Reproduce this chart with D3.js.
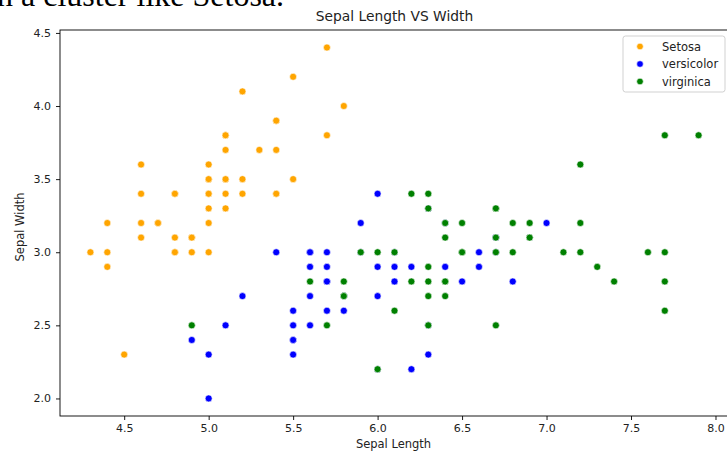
<!DOCTYPE html>
<html>
<head>
<meta charset="utf-8">
<script src="https://cdn.jsdelivr.net/npm/d3@7"></script>
<style>
  html, body { margin: 0; padding: 0; background: #fff; overflow: hidden; }
  svg { display: block; }
  text { font-family: "DejaVu Sans", sans-serif; }
</style>
</head>
<body>
<svg id="chart" width="727" height="452"></svg>
<script>
// Iris measurements: [sepal length, sepal width]
const setosa = [
  [5.1,3.5],[4.9,3.0],[4.7,3.2],[4.6,3.1],[5.0,3.6],[5.4,3.9],[4.6,3.4],[5.0,3.4],[4.4,2.9],[4.9,3.1],
  [5.4,3.7],[4.8,3.4],[4.8,3.0],[4.3,3.0],[5.8,4.0],[5.7,4.4],[5.4,3.9],[5.1,3.5],[5.7,3.8],[5.1,3.8],
  [5.4,3.4],[5.1,3.7],[4.6,3.6],[5.1,3.3],[4.8,3.4],[5.0,3.0],[5.0,3.4],[5.2,3.5],[5.2,3.4],[4.7,3.2],
  [4.8,3.1],[5.4,3.4],[5.2,4.1],[5.5,4.2],[4.9,3.1],[5.0,3.2],[5.5,3.5],[4.9,3.1],[4.4,3.0],[5.1,3.4],
  [5.0,3.5],[4.5,2.3],[4.4,3.2],[5.0,3.5],[5.1,3.8],[4.8,3.0],[5.1,3.8],[4.6,3.2],[5.3,3.7],[5.0,3.3]
];
const versicolor = [
  [7.0,3.2],[6.4,3.2],[6.9,3.1],[5.5,2.3],[6.5,2.8],[5.7,2.8],[6.3,3.3],[4.9,2.4],[6.6,2.9],[5.2,2.7],
  [5.0,2.0],[5.9,3.0],[6.0,2.2],[6.1,2.9],[5.6,2.9],[6.7,3.1],[5.6,3.0],[5.8,2.7],[6.2,2.2],[5.6,2.5],
  [5.9,3.2],[6.1,2.8],[6.3,2.5],[6.1,2.8],[6.4,2.9],[6.6,3.0],[6.8,2.8],[6.7,3.0],[6.0,2.9],[5.7,2.6],
  [5.5,2.4],[5.5,2.4],[5.8,2.7],[6.0,2.7],[5.4,3.0],[6.0,3.4],[6.7,3.1],[6.3,2.3],[5.6,3.0],[5.5,2.5],
  [5.5,2.6],[6.1,3.0],[5.8,2.6],[5.0,2.3],[5.6,2.7],[5.7,3.0],[5.7,2.9],[6.2,2.9],[5.1,2.5],[5.7,2.8]
];
const virginica = [
  [6.3,3.3],[5.8,2.7],[7.1,3.0],[6.3,2.9],[6.5,3.0],[7.6,3.0],[4.9,2.5],[7.3,2.9],[6.7,2.5],[7.2,3.6],
  [6.5,3.2],[6.4,2.7],[6.8,3.0],[5.7,2.5],[5.8,2.8],[6.4,3.2],[6.5,3.0],[7.7,3.8],[7.7,2.6],[6.0,2.2],
  [6.9,3.2],[5.6,2.8],[7.7,2.8],[6.3,2.7],[6.7,3.3],[7.2,3.2],[6.2,2.8],[6.1,3.0],[6.4,2.8],[7.2,3.0],
  [7.4,2.8],[7.9,3.8],[6.4,2.8],[6.3,2.8],[6.1,2.6],[7.7,3.0],[6.3,3.4],[6.4,3.1],[6.0,3.0],[6.9,3.1],
  [6.7,3.1],[6.9,3.1],[5.8,2.7],[6.8,3.2],[6.7,3.3],[6.7,3.0],[6.3,2.5],[6.5,3.0],[6.2,3.4],[5.9,3.0]
];

const seriesNames = ["Setosa", "versicolor", "virginica"];
const seriesColors = ["orange", "blue", "green"];
const xTicks = [4.5, 5.0, 5.5, 6.0, 6.5, 7.0, 7.5, 8.0];
const yTicks = [2.0, 2.5, 3.0, 3.5, 4.0, 4.5];

const series = [setosa, versicolor, virginica].map((pts, i) => ({
  name: seriesNames[i], color: seriesColors[i], points: pts
}));

const svg = d3.select("#chart");

// Tail of the surrounding page's text line, running off the top edge
svg.append("text")
  .attr("x", -3).attr("y", 6)
  .style("font-family", "'Liberation Serif', 'Times New Roman', serif")
  .style("font-size", "32px")
  .attr("fill", "#000")
  .text("n a cluster like Setosa.");

const plot = { left: 60, top: 30, right: 729, bottom: 416 };

const x = d3.scaleLinear().domain([4.12, 8.08]).range([plot.left, plot.right]);
const y = d3.scaleLinear().domain([1.88, 4.52]).range([plot.bottom, plot.top]);

// Axes
const xAxis = svg.append("g")
  .attr("transform", `translate(0,${plot.bottom})`)
  .call(d3.axisBottom(x).tickValues(xTicks).tickFormat(d3.format(".1f")).tickSizeOuter(0).tickSize(4).tickPadding(4));
const yAxis = svg.append("g")
  .attr("transform", `translate(${plot.left},0)`)
  .call(d3.axisLeft(y).tickValues(yTicks).tickFormat(d3.format(".1f")).tickSizeOuter(0).tickSize(4).tickPadding(5));

[xAxis, yAxis].forEach(g => {
  g.select(".domain").remove();
  g.selectAll(".tick line").attr("stroke", "#000").attr("stroke-width", 0.9);
  g.selectAll(".tick text").attr("fill", "#222").style("font-size", "11px").style("font-family", "'DejaVu Sans', sans-serif");
});

// Frame (spines)
svg.append("rect")
  .attr("x", plot.left).attr("y", plot.top)
  .attr("width", plot.right - plot.left).attr("height", plot.bottom - plot.top)
  .attr("fill", "none").attr("stroke", "#000").attr("stroke-width", 0.9);

// Points
series.forEach(s => {
  svg.append("g").selectAll("circle")
    .data(s.points)
    .join("circle")
    .attr("cx", d => x(d[0]))
    .attr("cy", d => y(d[1]))
    .attr("r", 3.5)
    .attr("fill", s.color)
    .attr("stroke", "#fff")
    .attr("stroke-width", 0.6);
});

// Title and axis labels
svg.append("text")
  .attr("x", (plot.left + plot.right) / 2).attr("y", 21)
  .attr("text-anchor", "middle")
  .style("font-size", "13.8px").attr("fill", "#222")
  .text("Sepal Length VS Width");

svg.append("text")
  .attr("x", (plot.left + plot.right) / 2 - 1).attr("y", 448)
  .attr("text-anchor", "middle")
  .style("font-size", "11.5px").attr("fill", "#222")
  .text("Sepal Length");

svg.append("text")
  .attr("transform", `translate(24,${(plot.top + plot.bottom) / 2 + 4}) rotate(-90)`)
  .attr("text-anchor", "middle")
  .style("font-size", "11.5px").attr("fill", "#222")
  .text("Sepal Width");

// Legend
const legend = svg.append("g").attr("transform", "translate(623,36)");
legend.append("rect")
  .attr("width", 102).attr("height", 56).attr("rx", 2.5)
  .attr("fill", "#fff").attr("fill-opacity", 0.8)
  .attr("stroke", "#ccc").attr("stroke-width", 0.9);
series.forEach((s, i) => {
  const row = legend.append("g").attr("transform", `translate(0,${10.5 + i * 17.5})`);
  row.append("circle").attr("cx", 17).attr("cy", 0).attr("r", 3.3)
    .attr("fill", s.color).attr("stroke", "#fff").attr("stroke-width", 0.6);
  row.append("text").attr("x", 39).attr("y", 4)
    .style("font-size", "11.5px").attr("fill", "#222")
    .text(s.name);
});
</script>
</body>
</html>
